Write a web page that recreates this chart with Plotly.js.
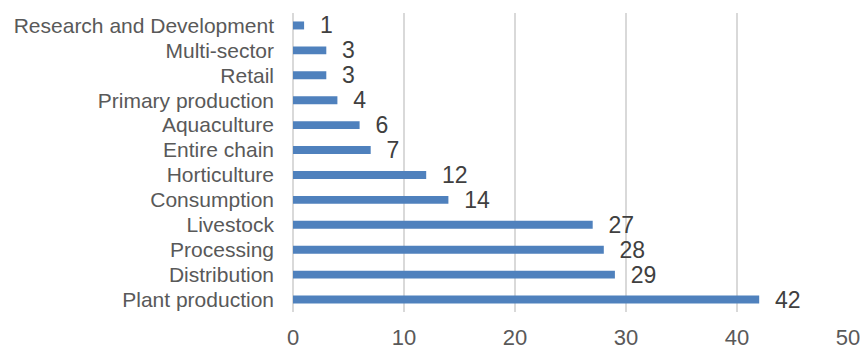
<!DOCTYPE html>
<html><head><meta charset="utf-8">
<script src="https://cdn.plot.ly/plotly-3.0.1.min.js"></script>
<style>html,body{margin:0;padding:0;background:#fff}#chart{width:862px;height:349px}</style>
</head><body><div id="chart"></div>
<script>
const categories = ["Plant production","Distribution","Processing","Livestock","Consumption","Horticulture","Entire chain","Aquaculture","Primary production","Retail","Multi-sector","Research and Development"];
const values = [42,29,28,27,14,12,7,6,4,3,3,1];
const xTicks = [0,10,20,30,40,50];

const font = "Arial, 'Liberation Sans', sans-serif";
Plotly.newPlot('chart', [{
  type: 'bar', orientation: 'h',
  x: values, y: categories,
  marker: {color: '#4f81bd'},
  text: values.map(v => '\u00a0\u00a0' + v),
  textposition: 'outside',
  constraintext: 'none',
  textfont: {family: font, size: 23, color: '#404040'},
  cliponaxis: false,
  hoverinfo: 'none'
}], {
  width: 862, height: 349,
  margin: {l: 293, r: 14, t: 13, b: 37},
  bargap: 0.68,
  paper_bgcolor: '#fff', plot_bgcolor: '#fff',
  showlegend: false,
  font: {family: font},
  xaxis: {
    range: [0, 50], tickvals: xTicks, ticktext: xTicks.map(String),
    showgrid: true, gridcolor: '#d9d9d9', gridwidth: 1.5,
    zeroline: true, zerolinecolor: '#d9d9d9', zerolinewidth: 1.5,
    showline: false, ticks: '',
    tickfont: {family: font, size: 22, color: '#595959'},
    ticklabelstandoff: 10, fixedrange: true
  },
  yaxis: {
    type: 'category', categoryorder: 'array', categoryarray: categories,
    tickmode: 'array', tickvals: categories, ticktext: categories,
    showgrid: false, zeroline: false, showline: false, ticks: '',
    tickfont: {family: font, size: 21, color: '#595959'},
    ticklabelstandoff: 18, fixedrange: true
  }
}, {staticPlot: true});
</script></body></html>
